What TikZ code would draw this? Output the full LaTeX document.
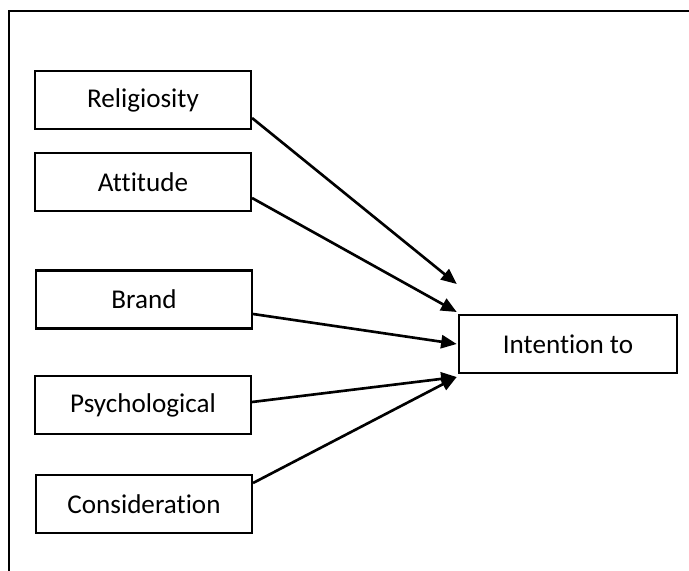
\documentclass[tikz,border=0pt]{standalone}
\usepackage{fontspec}
\setmainfont{Carlito}[Ligatures={NoCommon,NoRequired,NoContextual}]
\usetikzlibrary{%
	arrows.meta,%
	calc%
}

\begin{document}
\begin{tikzpicture}[x=0.4167pt, y=-0.4167pt,
		factor/.style={draw, line width=0.9pt, minimum width=90pt, minimum height=24.2pt, inner sep=0pt, font=\fontsize{11.3}{13}\selectfont},
		link/.style={line width=1.1pt, -{Triangle[length=6.5pt, width=5.5pt]}}]
	\useasboundingbox (0,0) rectangle (689,571);
	
	% Draw the frame (top and left edges only)
	\draw[line width=1.1pt] (689,11) -- (9,11) -- (9,571);
	
	% Draw the factor boxes down the left side
	\foreach \name/\txt/\x/\y in {rel/Religiosity/143/100, att/Attitude/143/182, brd/Brand/144/299.5, psy/Psychological/143/405, con/Consideration/144/504} {
		\node[factor] (\name) at (\x,\y) {\txt};
	}
	
	% Draw the outcome box
	\node[factor, minimum width=91pt] (int) at (568,344) {Intention to};
	
	% Points where the arrows stop, left of the outcome box
	\foreach \name/\dy in {endrel/-60, endatt/-32, endbrd/0, endpsy/33} {
		\coordinate (\name) at ($(int.west)+(-1,\dy)$);
	}
	
	% Draw the arrows from each factor
	\foreach \from/\dy/\to in {rel/18/endrel, att/16/endatt, brd/14.5/endbrd, psy/-3/endpsy, con/-21/endpsy} {
		\draw[link] ($(\from.east)+(0,\dy)$) -- (\to);
	}
\end{tikzpicture}
\end{document}
